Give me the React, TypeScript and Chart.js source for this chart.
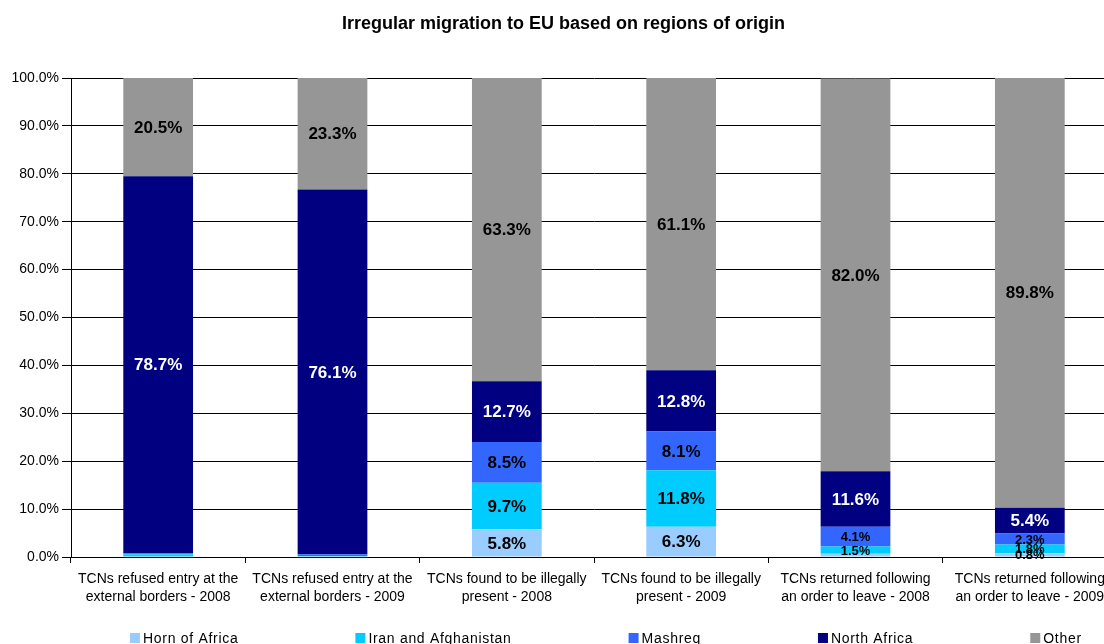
import React, { useEffect, useRef } from "react";
import { Chart, registerables } from "chart.js";
Chart.register(...registerables);

const categories: string[][] = [
  ["TCNs refused entry at the", "external borders - 2008"],
  ["TCNs refused entry at the", "external borders - 2009"],
  ["TCNs found to be illegally", "present - 2008"],
  ["TCNs found to be illegally", "present - 2009"],
  ["TCNs returned following", "an order to leave - 2008"],
  ["TCNs returned following", "an order to leave - 2009"],
];

const seriesNames = ["Horn of Africa", "Iran and Afghanistan", "Mashreq", "North Africa", "Other"];
const hornOfAfrica = [0.1, 0.1, 5.8, 6.3, 0.7, 0.8];
const iranAfghanistan = [0.5, 0.1, 9.7, 11.8, 1.5, 1.8];
const mashreq = [0.2, 0.4, 8.5, 8.1, 4.1, 2.3];
const northAfrica = [78.7, 76.1, 12.7, 12.8, 11.6, 5.4];
const other = [20.5, 23.3, 63.3, 61.1, 82.0, 89.8];

const seriesColors = ["#99CCFF", "#00CCFF", "#3366FF", "#000080", "#969696"];
const labelColors = ["#000000", "#000000", "#000000", "#FFFFFF", "#000000"];
const yTicks = [0, 10, 20, 30, 40, 50, 60, 70, 80, 90, 100];

const FONT = "Arial, 'Liberation Sans', sans-serif";

const barLabels = {
  id: "barLabels",
  afterDatasetsDraw(chart: any) {
    const ctx = chart.ctx;
    ctx.save();
    ctx.textAlign = "center";
    ctx.textBaseline = "middle";
    chart.data.datasets.forEach((ds: any, i: number) => {
      const meta = chart.getDatasetMeta(i);
      meta.data.forEach((el: any, j: number) => {
        const v = ds.data[j];
        if (v < 0.75) return;
        const p = el.getProps(["x", "y", "base"], true);
        const cy = (p.y + p.base) / 2;
        const size = v < 5 ? 13 : 17;
        ctx.font = `bold ${size}px ${FONT}`;
        ctx.fillStyle = labelColors[i];
        ctx.fillText(v.toFixed(1) + "%", p.x, cy + 1);
      });
    });
    ctx.restore();
  },
};

const customLegend = {
  id: "customLegend",
  afterDraw(chart: any) {
    const ctx = chart.ctx;
    ctx.save();
    ctx.font = `14px ${FONT}`;
    try {
      (ctx as any).letterSpacing = "0.7px";
    } catch (e) {}
    ctx.textBaseline = "middle";
    ctx.textAlign = "left";
    let x = 130;
    const y = 638;
    chart.data.datasets.forEach((ds: any) => {
      ctx.fillStyle = ds.backgroundColor;
      ctx.fillRect(x, y - 5, 10, 10);
      ctx.fillStyle = "#000";
      ctx.fillText(ds.label, x + 13, y + 1);
      x += 13 + ctx.measureText(ds.label).width + 117;
    });
    ctx.restore();
  },
};

export default function App() {
  const ref = useRef<HTMLCanvasElement | null>(null);
  useEffect(() => {
    document.body.style.overflow = "hidden";
    document.documentElement.style.overflow = "hidden";
    const seriesData = [hornOfAfrica, iranAfghanistan, mashreq, northAfrica, other];
    const chart = new Chart(ref.current as HTMLCanvasElement, {
      type: "bar",
      data: {
        labels: categories,
        datasets: seriesNames.map((name, i) => ({
          label: name,
          data: seriesData[i],
          backgroundColor: seriesColors[i],
          borderWidth: 0,
          barPercentage: 0.4,
          categoryPercentage: 1,
        })),
      },
      options: {
        responsive: false,
        animation: false,
        devicePixelRatio: 1,
        layout: { padding: { left: 10, right: 17, top: 0, bottom: 53 } },
        plugins: {
          legend: { display: false },
          tooltip: { enabled: false },
          title: {
            display: true,
            text: "Irregular migration to EU based on regions of origin",
            color: "#000",
            font: { family: FONT, size: 18, weight: "bold" },
            padding: { top: 13, bottom: 43.4 },
          },
        },
        scales: {
          x: {
            stacked: true,
            grid: { offset: true, drawOnChartArea: false, color: "#000", tickLength: 6 },
            border: { color: "#000" },
            ticks: {
              color: "#000",
              font: { family: FONT, size: 14, lineHeight: 1.29 },
              padding: 7,
              maxRotation: 0,
              autoSkip: false,
            },
            afterFit: (s: any) => {
              s.height = 50;
            },
          },
          y: {
            stacked: true,
            min: 0,
            max: 100,
            afterBuildTicks: (s: any) => {
              s.ticks = yTicks.map((v) => ({ value: v }));
            },
            grid: { color: "#000", tickLength: 9 },
            border: { color: "#000" },
            ticks: {
              color: "#000",
              font: { family: FONT, size: 14 },
              padding: 3,
              callback: (v: any) => Number(v).toFixed(1) + "%",
            },
            afterFit: (s: any) => {
              s.width = 61;
            },
          },
        },
      },
      plugins: [barLabels, customLegend],
    });
    return () => chart.destroy();
  }, []);
  return (
    <div style={{ position: "absolute", left: 0, top: 0, width: 1134, height: 660 }}>
      <canvas ref={ref} width={1134} height={660} />
    </div>
  );
}
